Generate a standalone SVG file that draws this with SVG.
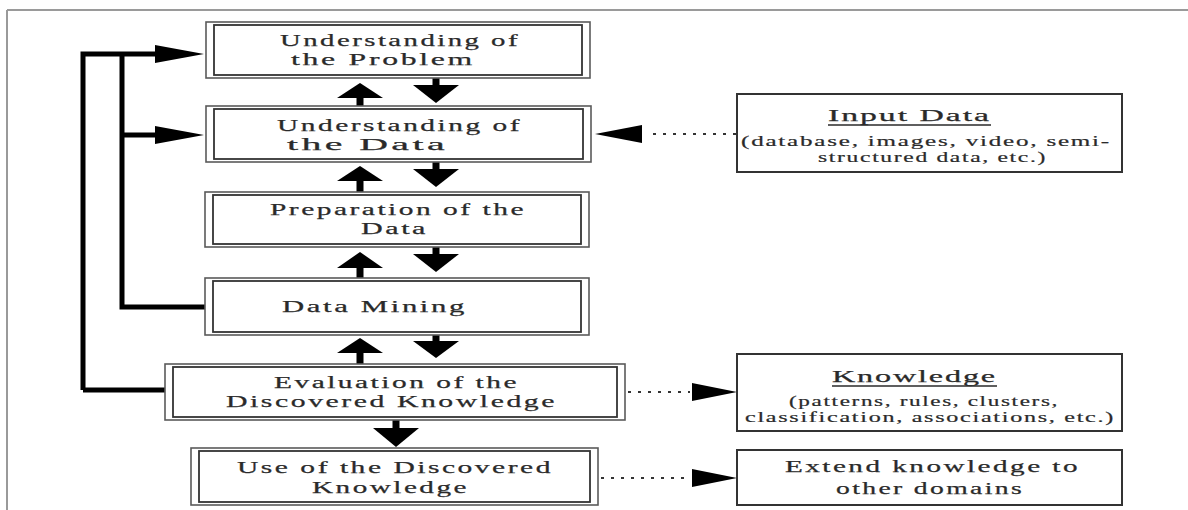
<svg xmlns="http://www.w3.org/2000/svg" width="1188" height="510" viewBox="0 0 1188 510">
<defs>
<style>
.frame{stroke:#9a9a9a;stroke-width:2;fill:none}
.outer{fill:#fff;stroke:#5a5a5a;stroke-width:1.6}
.inner{fill:none;stroke:#333;stroke-width:1.8}
.single{fill:#fff;stroke:#333;stroke-width:2}
.t{font-family:"Liberation Serif","Times New Roman",serif;font-size:17.5px;fill:#2a2a2a;stroke:#2a2a2a;stroke-width:0.25;letter-spacing:1.5px}
.s{font-family:"Liberation Serif","Times New Roman",serif;font-size:14px;fill:#2a2a2a;stroke:#2a2a2a;stroke-width:0.2;letter-spacing:1px}
.h{font-family:"Liberation Serif","Times New Roman",serif;font-size:17px;fill:#2a2a2a;stroke:#2a2a2a;stroke-width:0.25;letter-spacing:1px}
.thick{stroke:#000;stroke-width:5;fill:none}
.dot{stroke:#333;stroke-width:2;stroke-dasharray:3 7;fill:none}
.ul{stroke:#2a2a2a;stroke-width:1.3}
</style>
</defs>
<rect width="1188" height="510" fill="#fff"/>
<path class="frame" d="M7 10H1188M7 10V510"/>

<g id="connectors">
<path class="thick" d="M83 390V54H156M122 54V307H205M122 135H156M83 390H165"/>
<polygon points="155,45 204,54 155,63"/>
<polygon points="155,126 204,135 155,144"/>
<rect x="356.5" y="97" width="7" height="9"/><polygon points="337,98 360,83 383,98"/>
<rect x="432.5" y="78" width="7" height="8"/><polygon points="413,85 459,85 436,103"/>
<rect x="356.5" y="180" width="7" height="12"/><polygon points="337,181 360,166 383,181"/>
<rect x="432.5" y="162" width="7" height="8"/><polygon points="413,169 459,169 436,187"/>
<rect x="356.5" y="267" width="7" height="11"/><polygon points="337,268 360,252 383,268"/>
<rect x="432.5" y="247" width="7" height="8"/><polygon points="413,254 459,254 436,272"/>
<rect x="356.5" y="352" width="7" height="12"/><polygon points="337,353 360,338 383,353"/>
<rect x="432.5" y="335" width="7" height="7"/><polygon points="413,341 459,341 436,358"/>
<rect x="392.5" y="420" width="7" height="9"/><polygon points="373,428 419,428 396,447"/>
<path class="dot" d="M736 134H646"/><polygon points="642,125 595,134 642,143"/>
<path class="dot" d="M628 392H690"/><polygon points="692,383 737,392 692,401"/>
<path class="dot" d="M601 478H690"/><polygon points="692,469 737,478 692,487"/>
</g>

<g id="n1">
<rect class="outer" x="206" y="22" width="384" height="56"/><rect class="inner" x="214" y="25" width="368" height="50"/>
<text class="t" x="280" y="46" textLength="240" lengthAdjust="spacingAndGlyphs">Understanding of</text>
<text class="t" x="291" y="65" textLength="184" lengthAdjust="spacingAndGlyphs">the Problem</text>
</g>
<g id="n2">
<rect class="outer" x="206" y="106" width="385" height="56"/><rect class="inner" x="214" y="109" width="369" height="50"/>
<text class="t" x="277" y="131" textLength="245" lengthAdjust="spacingAndGlyphs">Understanding of</text>
<text class="t" x="287" y="150" textLength="161" lengthAdjust="spacingAndGlyphs">the Data</text>
</g>
<g id="n3">
<rect class="outer" x="205" y="192" width="384" height="55"/><rect class="inner" x="213" y="195" width="368" height="49"/>
<text class="t" x="270" y="215" textLength="256" lengthAdjust="spacingAndGlyphs">Preparation of the</text>
<text class="t" x="361" y="234" textLength="67" lengthAdjust="spacingAndGlyphs">Data</text>
</g>
<g id="n4">
<rect class="outer" x="205" y="278" width="384" height="57"/><rect class="inner" x="213" y="281" width="368" height="51"/>
<text class="t" x="282" y="312" textLength="185" lengthAdjust="spacingAndGlyphs">Data Mining</text>
</g>
<g id="n5">
<rect class="outer" x="165" y="364" width="460" height="56"/><rect class="inner" x="173" y="367" width="444" height="50"/>
<text class="t" x="274" y="388" textLength="245" lengthAdjust="spacingAndGlyphs">Evaluation of the</text>
<text class="t" x="226" y="407" textLength="331" lengthAdjust="spacingAndGlyphs">Discovered Knowledge</text>
</g>
<g id="n6">
<rect class="outer" x="191" y="448" width="407" height="57"/><rect class="inner" x="199" y="451" width="391" height="51"/>
<text class="t" x="237" y="473" textLength="316" lengthAdjust="spacingAndGlyphs">Use of the Discovered</text>
<text class="t" x="312" y="493" textLength="157" lengthAdjust="spacingAndGlyphs">Knowledge</text>
</g>
<g id="input">
<rect class="single" x="737" y="94" width="385" height="78"/>
<text class="h" x="828" y="121" textLength="163" lengthAdjust="spacingAndGlyphs">Input Data</text>
<line class="ul" x1="828" y1="125" x2="991" y2="125"/>
<text class="s" x="741" y="146" textLength="370" lengthAdjust="spacingAndGlyphs">(database, images, video, semi-</text>
<text class="s" x="818" y="162" textLength="229" lengthAdjust="spacingAndGlyphs">structured data, etc.)</text>
</g>
<g id="knowledge">
<rect class="single" x="737" y="354" width="385" height="77"/>
<text class="h" x="832" y="382" textLength="165" lengthAdjust="spacingAndGlyphs">Knowledge</text>
<line class="ul" x1="832" y1="386" x2="997" y2="386"/>
<text class="s" x="789" y="406" textLength="270" lengthAdjust="spacingAndGlyphs">(patterns, rules, clusters,</text>
<text class="s" x="745" y="422" textLength="370" lengthAdjust="spacingAndGlyphs">classification, associations, etc.)</text>
</g>
<g id="extend">
<rect class="single" x="737" y="450" width="385" height="55"/>
<text class="t" x="785" y="472" textLength="295" lengthAdjust="spacingAndGlyphs">Extend knowledge to</text>
<text class="t" x="836" y="494" textLength="188" lengthAdjust="spacingAndGlyphs">other domains</text>
</g>
</svg>
